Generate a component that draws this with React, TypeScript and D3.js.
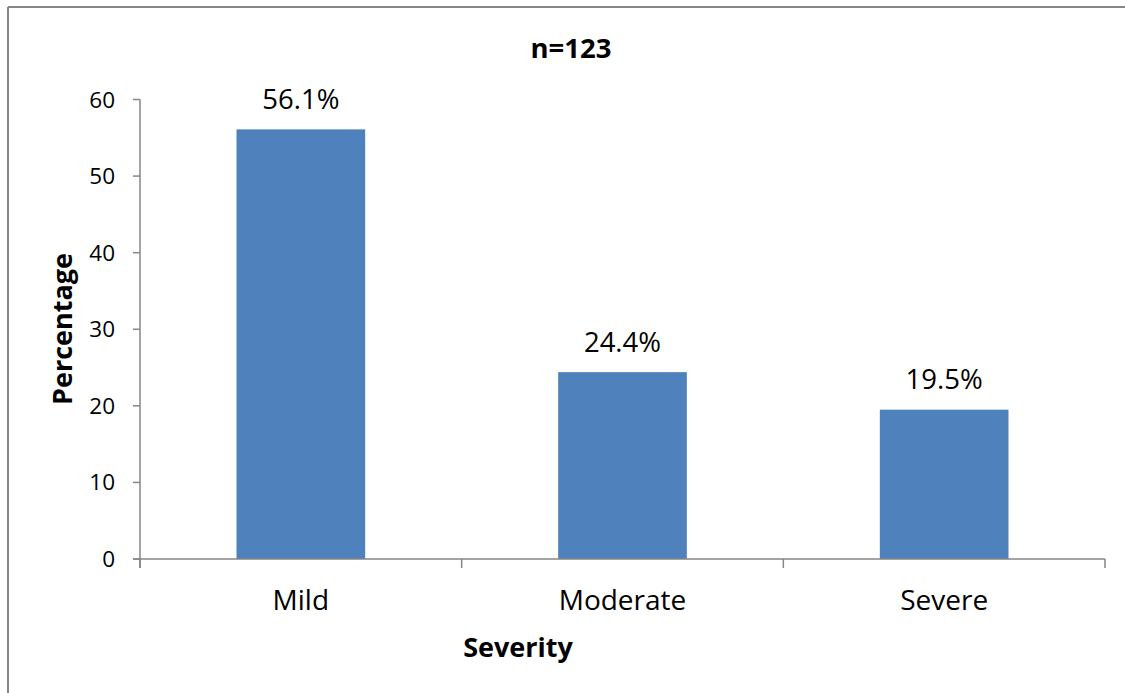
import React from "react";
import * as d3 from "d3";

const categories = ["Mild", "Moderate", "Severe"];
const values = [56.1, 24.4, 19.5];
const valueLabels = ["56.1%", "24.4%", "19.5%"];
const yTicks = [0, 10, 20, 30, 40, 50, 60];
const title = "n=123";
const xTitle = "Severity";
const yTitle = "Percentage";

const W = 1125;
const H = 693;
const FONT = "'Open Sans', sans-serif";
const AXIS = "#868686";
const BAR = "#4F81BD";

export default function App() {
  const x = d3
    .scaleBand<string>()
    .domain(categories)
    .range([140, 1105])
    .paddingInner(0.6)
    .paddingOuter(0.3);
  const y = d3.scaleLinear().domain([0, 60]).range([559, 99.5]);
  const step = x.step();
  const bandStart = (x.range()[0] as number);
  const boundaries = d3.range(categories.length + 1).map((i) => bandStart + i * step);

  return (
    <svg
      width={W}
      height={H}
      style={{ position: "absolute", left: 0, top: 0, background: "#fff" }}
    >
      <rect x={0} y={0} width={W} height={H} fill="#fff" />
      {/* chart border */}
      <line x1={8} y1={7} x2={W + 2} y2={7} stroke={AXIS} strokeWidth={2} />
      <line x1={8} y1={7} x2={8} y2={H + 2} stroke={AXIS} strokeWidth={2} />

      {/* title */}
      <text x={571} y={57.5} textAnchor="middle" fontFamily={FONT} fontWeight="bold" fontSize={27.5} fill="#000">
        {title}
      </text>

      {/* bars */}
      {categories.map((c, i) => (
        <rect
          key={c}
          x={x(c)}
          y={y(values[i])}
          width={x.bandwidth()}
          height={y(0) - y(values[i])}
          fill={BAR}
        />
      ))}

      {/* value labels */}
      {categories.map((c, i) => (
        <text
          key={c + "-lbl"}
          x={(x(c) as number) + x.bandwidth() / 2}
          y={y(values[i]) - 20.5}
          textAnchor="middle"
          fontFamily={FONT}
          fontSize={27.5}
          fill="#000"
        >
          {valueLabels[i]}
        </text>
      ))}

      {/* y axis */}
      <line x1={140} y1={y(60)} x2={140} y2={568} stroke={AXIS} strokeWidth={1.5} />
      {yTicks.map((t) => (
        <g key={t}>
          <line x1={133} y1={y(t)} x2={140} y2={y(t)} stroke={AXIS} strokeWidth={1.5} />
          <text
            x={115}
            y={y(t) + 8}
            textAnchor="end"
            fontFamily={FONT}
            fontSize={22.5}
            fill="#000"
          >
            {t}
          </text>
        </g>
      ))}

      {/* x axis */}
      <line x1={133} y1={y(0)} x2={1105} y2={y(0)} stroke={AXIS} strokeWidth={1.5} />
      {boundaries.map((b, i) => (
        <line key={"xt" + i} x1={b} y1={y(0)} x2={b} y2={568} stroke={AXIS} strokeWidth={1.5} />
      ))}
      {categories.map((c) => (
        <text
          key={c + "-cat"}
          x={(x(c) as number) + x.bandwidth() / 2}
          y={610}
          textAnchor="middle"
          fontFamily={FONT}
          fontSize={28}
          fill="#000"
        >
          {c}
        </text>
      ))}

      {/* axis titles */}
      <text x={518} y={657} textAnchor="middle" fontFamily={FONT} fontWeight="bold" fontSize={27} fill="#000">
        {xTitle}
      </text>
      <text
        transform={`translate(72,329) rotate(-90)`}
        textAnchor="middle"
        fontFamily={FONT}
        fontWeight="bold"
        fontSize={27}
        fill="#000"
      >
        {yTitle}
      </text>
    </svg>
  );
}
